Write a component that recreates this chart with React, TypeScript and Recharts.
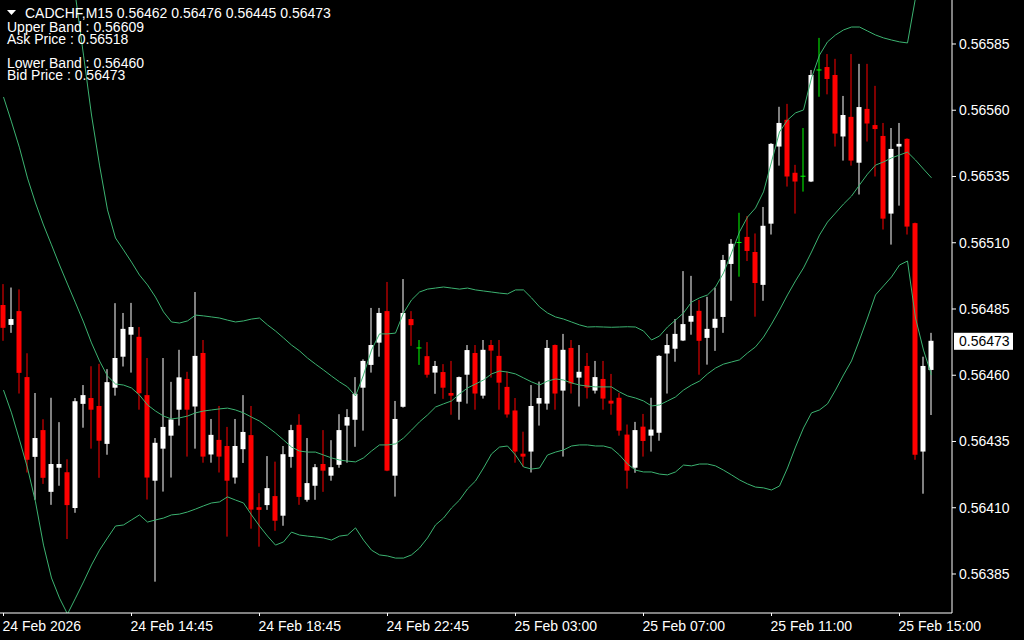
import React from "react";
import { ComposedChart, Bar, Line, XAxis, YAxis, ReferenceLine } from "recharts";

// CADCHF M15 candles (oldest -> newest)
const opens = [
  0.564865, 0.56479, 0.564842, 0.564593, 0.564292, 0.564393, 0.56416, 0.564251, 0.564234, 0.564099,
  0.564492, 0.564514, 0.564484, 0.564341, 0.564553, 0.56467, 0.564753, 0.564745, 0.564525, 0.564202,
  0.564323, 0.564372, 0.56447, 0.564586, 0.564482, 0.564684, 0.564301, 0.564356, 0.564333, 0.564214,
  0.564321, 0.564374, 0.564102, 0.56411, 0.564144, 0.56407, 0.564292, 0.564413, 0.56413, 0.564183,
  0.564265, 0.564221, 0.564262, 0.56441, 0.564432, 0.564553, 0.564639, 0.564723, 0.564842, 0.564221,
  0.564481, 0.564812, 0.564703, 0.564672, 0.56461, 0.564612, 0.564533, 0.5645, 0.564602, 0.564684,
  0.564523, 0.564714, 0.564673, 0.564556, 0.564467, 0.564304, 0.564312, 0.564493, 0.564493, 0.564714,
  0.564542, 0.564703, 0.564591, 0.564635, 0.564542, 0.564586, 0.564504, 0.564515, 0.564376, 0.564251,
  0.564406, 0.564372, 0.564383, 0.564682, 0.5647, 0.564731, 0.564802, 0.564843, 0.564741, 0.564779,
  0.56482, 0.56502, 0.565101, 0.565122, 0.565065, 0.564941, 0.565172, 0.565463, 0.565564, 0.565364,
  0.565351, 0.565331, 0.565752, 0.565763, 0.565733, 0.565501, 0.565575, 0.565402, 0.565605, 0.565544,
  0.565503, 0.56521, 0.565463, 0.565492, 0.565174, 0.564312, 0.56462,
];
const highs = [
  0.564944, 0.564931, 0.564924, 0.564683, 0.564533, 0.564434, 0.564515, 0.564423, 0.564283, 0.564514,
  0.564563, 0.564634, 0.564643, 0.564623, 0.564872, 0.564835, 0.564873, 0.564782, 0.564665, 0.564363,
  0.564665, 0.564575, 0.564696, 0.564613, 0.564914, 0.564733, 0.564435, 0.564484, 0.564405, 0.564435,
  0.564525, 0.564484, 0.564155, 0.564295, 0.564274, 0.564333, 0.564413, 0.564453, 0.564363, 0.564265,
  0.564393, 0.564355, 0.564453, 0.564472, 0.564593, 0.56466, 0.564854, 0.564854, 0.564952, 0.564503,
  0.564963, 0.564842, 0.564733, 0.564725, 0.564654, 0.564642, 0.564654, 0.564595, 0.564714, 0.564714,
  0.564733, 0.564733, 0.564733, 0.564614, 0.564514, 0.564387, 0.564563, 0.564576, 0.564733, 0.564716,
  0.564756, 0.564733, 0.564714, 0.564684, 0.564654, 0.564654, 0.564605, 0.564533, 0.564414, 0.564424,
  0.564454, 0.564515, 0.564676, 0.564756, 0.564812, 0.564993, 0.564975, 0.564884, 0.564896, 0.564931,
  0.565054, 0.565114, 0.565213, 0.565201, 0.565135, 0.565235, 0.565476, 0.565613, 0.565624, 0.565394,
  0.565533, 0.565752, 0.565873, 0.565812, 0.565794, 0.565654, 0.565812, 0.565775, 0.565775, 0.565692,
  0.565552, 0.565533, 0.565552, 0.565494, 0.565176, 0.56467, 0.56476,
];
const lows = [
  0.56473, 0.56476, 0.564531, 0.564233, 0.56413, 0.56419, 0.564111, 0.564183, 0.563982, 0.564081,
  0.564402, 0.564323, 0.564213, 0.5643, 0.564523, 0.564633, 0.56461, 0.56447, 0.564131, 0.563821,
  0.564161, 0.564214, 0.56441, 0.564293, 0.564323, 0.56427, 0.56427, 0.564233, 0.563991, 0.564191,
  0.564269, 0.564021, 0.563953, 0.564092, 0.564013, 0.564032, 0.564251, 0.564111, 0.564123, 0.56413,
  0.56416, 0.564202, 0.564251, 0.56427, 0.56433, 0.564391, 0.56461, 0.56467, 0.564238, 0.564142,
  0.564478, 0.564711, 0.564639, 0.564591, 0.56453, 0.564511, 0.564451, 0.564432, 0.564493, 0.56447,
  0.564512, 0.564591, 0.56447, 0.56444, 0.56427, 0.564255, 0.564233, 0.56441, 0.56447, 0.56447,
  0.564293, 0.564531, 0.564482, 0.564512, 0.564531, 0.56447, 0.564451, 0.564372, 0.564172, 0.564232,
  0.564293, 0.564312, 0.564353, 0.564531, 0.564651, 0.564729, 0.564753, 0.564602, 0.56464, 0.564692,
  0.56476, 0.564881, 0.564972, 0.565031, 0.564821, 0.564881, 0.565131, 0.565391, 0.565312, 0.56521,
  0.565293, 0.565329, 0.565651, 0.56566, 0.565463, 0.56541, 0.565391, 0.565282, 0.565482, 0.56535,
  0.56515, 0.565093, 0.56524, 0.565131, 0.564281, 0.564153, 0.56445,
];
const closes = [
  0.564779, 0.564812, 0.564609, 0.564281, 0.564363, 0.564213, 0.564265, 0.564265, 0.56411, 0.564502,
  0.564525, 0.56447, 0.564353, 0.564574, 0.564665, 0.564775, 0.564782, 0.564532, 0.564214, 0.564345,
  0.564405, 0.564433, 0.564592, 0.56447, 0.564673, 0.564293, 0.564375, 0.564293, 0.564202, 0.564333,
  0.564386, 0.564093, 0.564092, 0.564174, 0.564051, 0.564302, 0.564393, 0.564141, 0.564193, 0.564253,
  0.56424, 0.564253, 0.564393, 0.564442, 0.56453, 0.564654, 0.564714, 0.564835, 0.56424, 0.564435,
  0.564835, 0.564789, 0.564703, 0.564602, 0.564635, 0.564553, 0.564523, 0.564593, 0.564695, 0.564531,
  0.564696, 0.564693, 0.564572, 0.564452, 0.564312, 0.564293, 0.564484, 0.564514, 0.564703, 0.564531,
  0.564696, 0.564569, 0.564613, 0.564553, 0.564593, 0.564512, 0.564493, 0.564391, 0.56424, 0.564393,
  0.564352, 0.564395, 0.564673, 0.564714, 0.564756, 0.564793, 0.564824, 0.56473, 0.564775, 0.564813,
  0.565035, 0.565096, 0.565101, 0.565069, 0.564948, 0.565164, 0.565473, 0.565552, 0.56535, 0.565331,
  0.565351, 0.565733, 0.565752, 0.565718, 0.565512, 0.565582, 0.56541, 0.565612, 0.56555, 0.565529,
  0.565191, 0.565454, 0.565473, 0.565161, 0.5643, 0.564635, 0.56473,
];

// Bollinger bands (20, 2) as drawn on the chart
const upperBand = [
  0.566756, 0.566654, 0.566559, 0.566435, 0.566371, 0.566386, 0.566356, 0.56628, 0.56619, 0.566031,
  0.565808, 0.565582, 0.565393, 0.565224, 0.565118, 0.565073, 0.565027, 0.564978, 0.564941, 0.564895,
  0.564839, 0.564801, 0.564797, 0.564805, 0.564827, 0.564824, 0.56482, 0.564816, 0.564808, 0.564801,
  0.564805, 0.564812, 0.564816, 0.56479, 0.564767, 0.564741, 0.564714, 0.564692, 0.564665, 0.564642,
  0.56462, 0.564597, 0.564575, 0.564556, 0.564522, 0.564601, 0.564695, 0.564756, 0.564756, 0.564759,
  0.564835, 0.564884, 0.564914, 0.564925, 0.564929, 0.564933, 0.564929, 0.564925, 0.564929, 0.564922,
  0.564918, 0.564914, 0.56491, 0.564907, 0.564922, 0.564922, 0.564892, 0.564858, 0.564835, 0.56482,
  0.564812, 0.564801, 0.56479, 0.564782, 0.564783, 0.564782, 0.564781, 0.564782, 0.564783, 0.564782,
  0.564767, 0.564733, 0.564748, 0.564782, 0.564808, 0.564835, 0.564876, 0.564892, 0.564903, 0.564933,
  0.564986, 0.565061, 0.565141, 0.565197, 0.565231, 0.565292, 0.565405, 0.565518, 0.565563, 0.56559,
  0.565601, 0.565722, 0.565808, 0.565858, 0.565884, 0.565903, 0.565914, 0.565914, 0.565899, 0.565884,
  0.565873, 0.565865, 0.565858, 0.565854, 0.566024, 0.566054, 0.566088,
];
const middleBand = [
  0.56565, 0.565556, 0.565458, 0.565344, 0.56525, 0.565167, 0.565092, 0.565016, 0.564944, 0.564873,
  0.564801, 0.564722, 0.564654, 0.564597, 0.564567, 0.564563, 0.564552, 0.564525, 0.564488, 0.564465,
  0.564446, 0.564435, 0.564439, 0.564446, 0.564458, 0.564465, 0.564469, 0.564473, 0.564476, 0.564469,
  0.564458, 0.564442, 0.564427, 0.564405, 0.564382, 0.564356, 0.564329, 0.564314, 0.56431, 0.56431,
  0.564299, 0.564288, 0.56428, 0.564276, 0.564273, 0.564288, 0.564314, 0.564337, 0.564337, 0.564341,
  0.564363, 0.564393, 0.564424, 0.56445, 0.56448, 0.564492, 0.564503, 0.564529, 0.564552, 0.564567,
  0.564582, 0.564605, 0.564616, 0.564612, 0.564605, 0.56459, 0.564575, 0.564563, 0.564578, 0.564586,
  0.564582, 0.564571, 0.564563, 0.564559, 0.564556, 0.564556, 0.564556, 0.564537, 0.564522, 0.564514,
  0.564503, 0.564484, 0.564488, 0.564503, 0.564518, 0.564544, 0.564563, 0.564578, 0.564605, 0.564627,
  0.564642, 0.56465, 0.564658, 0.564684, 0.564707, 0.564744, 0.564793, 0.564846, 0.564903, 0.564956,
  0.565005, 0.565065, 0.565129, 0.565178, 0.565212, 0.565246, 0.565276, 0.565318, 0.565359, 0.565393,
  0.565405, 0.56542, 0.565431, 0.565442, 0.565412, 0.565378, 0.565345,
];
const lowerBand = [
  0.564544, 0.564458, 0.564356, 0.56425, 0.564122, 0.563959, 0.563835, 0.563759, 0.563699, 0.563759,
  0.56382, 0.563884, 0.56394, 0.563986, 0.564031, 0.564035, 0.564054, 0.564073, 0.564046, 0.564054,
  0.564061, 0.564073, 0.564076, 0.564084, 0.564095, 0.564107, 0.564118, 0.564122, 0.564141, 0.564129,
  0.564118, 0.564073, 0.564031, 0.563993, 0.563959, 0.563971, 0.564008, 0.563997, 0.563993, 0.56399,
  0.563986, 0.563978, 0.563993, 0.563997, 0.564024, 0.563978, 0.56394, 0.563922, 0.563918, 0.56391,
  0.56391, 0.563922, 0.563948, 0.563986, 0.564035, 0.564061, 0.564099, 0.564129, 0.564171, 0.564201,
  0.56425, 0.564303, 0.564329, 0.564333, 0.564299, 0.564254, 0.564246, 0.56425, 0.564299, 0.56431,
  0.564318, 0.564333, 0.564337, 0.564337, 0.564333, 0.564333, 0.564325, 0.564299, 0.564265, 0.564242,
  0.564235, 0.564235, 0.564227, 0.564224, 0.564235, 0.564261, 0.564258, 0.564265, 0.564265, 0.564258,
  0.564242, 0.564224, 0.564205, 0.56419, 0.564178, 0.564175, 0.564167, 0.564182, 0.56425, 0.564329,
  0.564401, 0.564458, 0.564469, 0.564492, 0.564544, 0.564601, 0.564654, 0.564733, 0.564816, 0.564903,
  0.564937, 0.564971, 0.565016, 0.565031, 0.564816, 0.564695, 0.564601,
];

const timeTicks = [0, 16, 32, 48, 64, 80, 96, 112];
const timeLabels = [
  "24 Feb 2026", "24 Feb 14:45", "24 Feb 18:45", "24 Feb 22:45",
  "25 Feb 03:00", "25 Feb 07:00", "25 Feb 11:00", "25 Feb 15:00",
];
const priceTicks = [0.56385, 0.5641, 0.56435, 0.5646, 0.56485, 0.5651, 0.56535, 0.5656, 0.56585];

const BULL = "#ffffff";
const BEAR = "#ff0000";
const DOJI = "#00ff00";
const BAND = "#3cb371";
const FONT = "'Liberation Sans', Arial, sans-serif";

const data = opens.map((open, i) => ({
  i,
  open,
  high: highs[i],
  low: lows[i],
  close: closes[i],
  upper: upperBand[i],
  middle: middleBand[i],
  lower: lowerBand[i],
}));

const lastBar = data[data.length - 1];

function Candle(props: any) {
  const { x, y, width, height, payload } = props;
  if (x == null || y == null || !payload) return null;
  const { open, close, high, low } = payload;
  const top = Math.min(y, y + height);
  const bottom = Math.max(y, y + height);
  const span = high - low;
  const toY = (v: number) => (span === 0 ? top : top + ((high - v) / span) * (bottom - top));
  const cx = x + width / 2;
  const color = open === close ? DOJI : close > open ? BULL : BEAR;
  const yo = toY(open);
  const yc = toY(close);
  const bTop = Math.min(yo, yc);
  const bH = Math.max(1, Math.abs(yc - yo));
  return (
    <g>
      <rect x={cx - 0.5} y={top} width={1} height={Math.max(1, bottom - top)} fill={color} />
      <rect x={cx - 2.5} y={open === close ? yo - 0.5 : bTop} width={5} height={bH} fill={color} />
    </g>
  );
}

function TimeTick(props: any) {
  const { x, payload } = props;
  const idx = timeTicks.indexOf(payload.value);
  return (
    <text x={x - 1} y={631} fill="#fff" fontSize={14} fontFamily={FONT} textAnchor="start">
      {timeLabels[idx]}
    </text>
  );
}

function PriceTag(props: any) {
  const vb = props.viewBox;
  if (!vb) return null;
  const left = vb.x + vb.width + 2;
  return (
    <g>
      <rect x={left} y={vb.y - 8} width={59} height={17} fill="#fff" />
      <text x={left + 5} y={vb.y + 5} fill="#000" fontSize={14} fontFamily={FONT}>
        {lastBar.close.toFixed(5)}
      </text>
    </g>
  );
}

export default function App() {
  return (
    <div
      style={{
        position: "fixed",
        left: 0,
        top: 0,
        width: 1024,
        height: 640,
        background: "#000",
        fontFamily: FONT,
        overflow: "hidden",
      }}
    >
      <ComposedChart
        width={1024}
        height={640}
        data={data}
        margin={{ top: 0, right: 0, bottom: 0, left: 0 }}
        barSize={5}
      >
        <XAxis
          dataKey="i"
          type="number"
          domain={[-0.4375, 118.5625]}
          allowDataOverflow
          ticks={timeTicks}
          interval={0}
          height={27}
          stroke="#fff"
          tickSize={3}
          tick={<TimeTick />}
        />
        <YAxis
          orientation="right"
          type="number"
          domain={[0.5637028, 0.566016]}
          allowDataOverflow
          ticks={priceTicks}
          interval={0}
          width={72}
          stroke="#fff"
          tickSize={4}
          tickMargin={3}
          tick={{ fill: "#fff", fontSize: 14, fontFamily: FONT }}
          tickFormatter={(v: number) => v.toFixed(5)}
        />
        {["upper", "middle", "lower"].map((k) => (
          <Line
            key={k}
            dataKey={k}
            stroke={BAND}
            strokeWidth={1}
            dot={false}
            activeDot={false}
            type="linear"
            isAnimationActive={false}
          />
        ))}
        <Bar
          dataKey={(d: any) => [d.low, d.high]}
          shape={<Candle />}
          activeBar={false}
          isAnimationActive={false}
        />
        <ReferenceLine y={lastBar.close} stroke="none" label={(p: any) => <PriceTag {...p} />} />
      </ComposedChart>

      <svg
        width={1024}
        height={640}
        style={{ position: "absolute", left: 0, top: 0, pointerEvents: "none" }}
      >
        <polygon points="7,10 16,10 11.5,15" fill="#fff" />
        <g fill="#fff" fontSize={14} fontFamily={FONT} style={{ whiteSpace: "pre" }}>
          <text x={25} y={18}>CADCHF,M15  0.56462 0.56476 0.56445 0.56473</text>
          <text x={7} y={32}>Upper Band : 0.56609</text>
          <text x={7} y={44}>Ask Price : 0.56518</text>
          <text x={7} y={68}>Lower Band : 0.56460</text>
          <text x={7} y={80}>Bid Price : 0.56473</text>
        </g>
      </svg>
    </div>
  );
}
